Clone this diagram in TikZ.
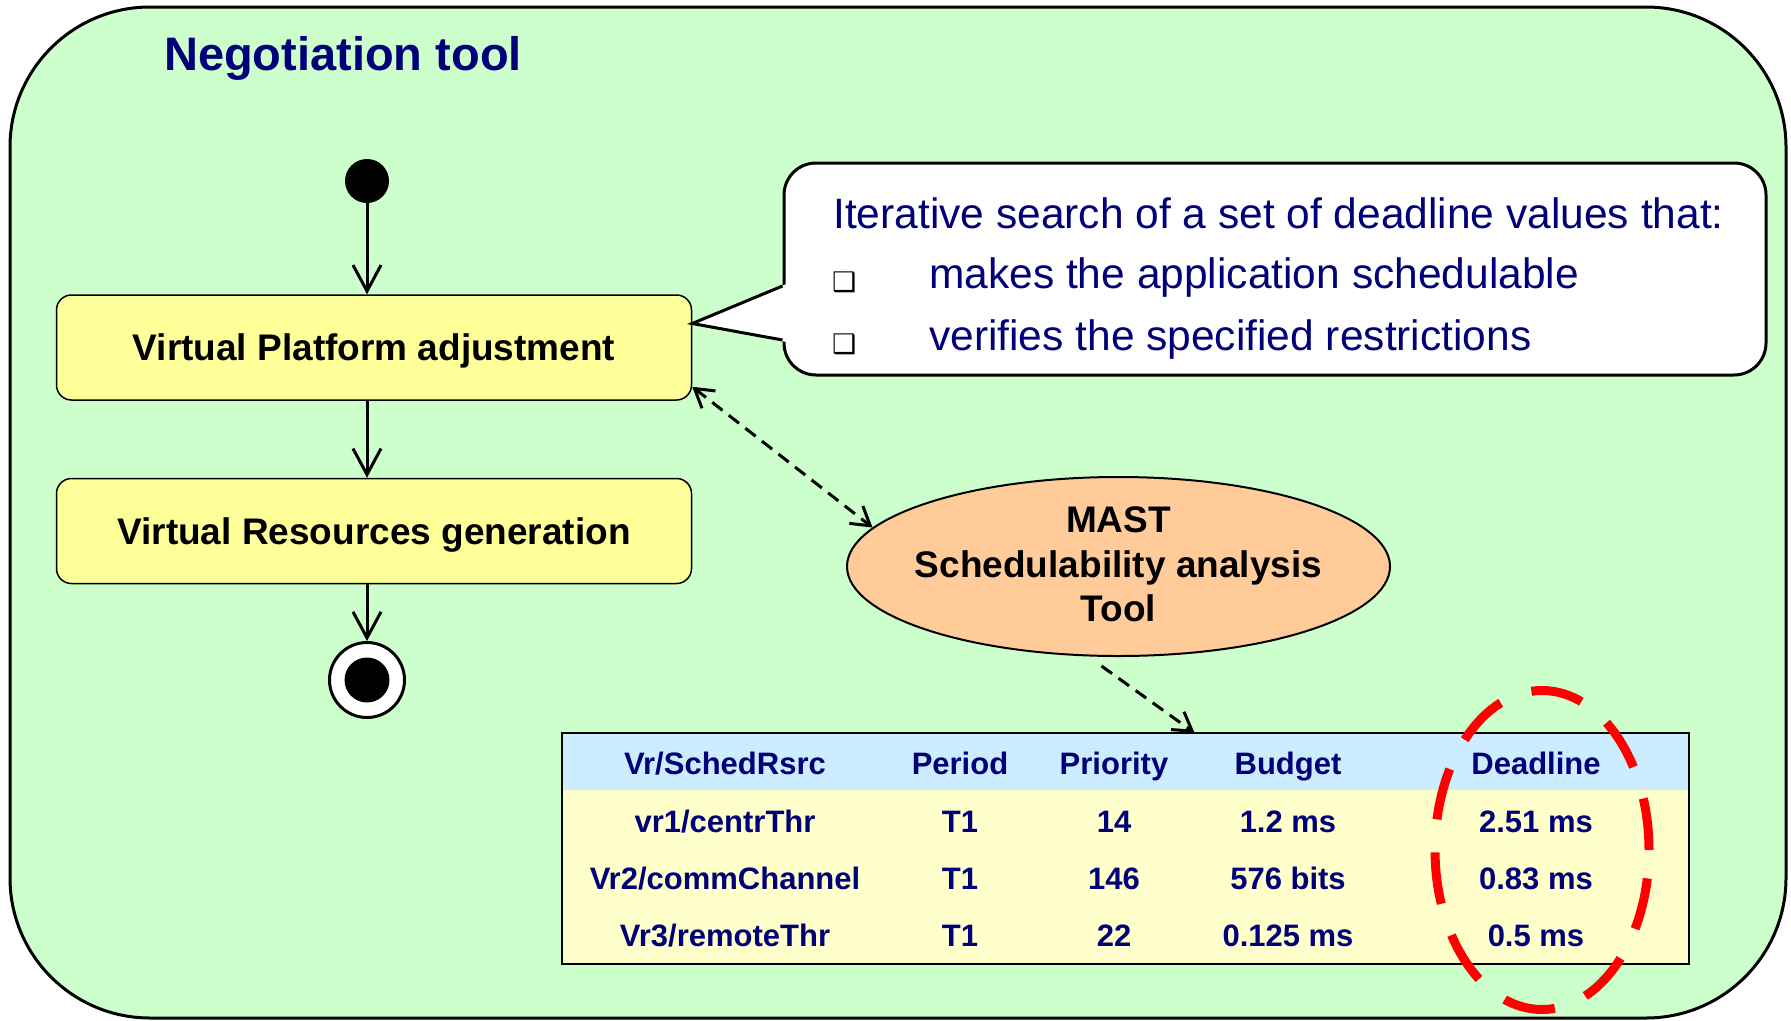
\documentclass[tikz,border=0pt]{standalone}
\usepackage{fontspec}
\setmainfont{Liberation Sans}
\newfontfamily\dingfont{DejaVu Sans}
\usetikzlibrary{shapes.geometric, arrows.meta, positioning}
\definecolor{toolgreen}{HTML}{CCFFCC}
\definecolor{actyellow}{HTML}{FFFF99}
\definecolor{mastorange}{HTML}{FFCC99}
\definecolor{headblue}{HTML}{CCECFF}
\definecolor{rowyellow}{HTML}{FFFFCC}
\definecolor{navy}{RGB}{0,0,120}
\tikzset{
    container/.style={rectangle, minimum width=1776pt, minimum height=1011pt, draw=black, line width=3pt, fill=toolgreen, rounded corners=140pt},
    activity/.style={rectangle, minimum width=635pt, minimum height=105pt, text centered, text depth=0pt, draw=black, line width=1.5pt, fill=actyellow, rounded corners=15pt, font=\fontsize{37}{44}\selectfont\bfseries},
    analysis/.style={ellipse, minimum width=543pt, minimum height=179pt, inner sep=0pt, draw=black, line width=2pt, fill=mastorange},
    analysistext/.style={align=center, inner sep=0pt, font=\fontsize{37}{44.5}\selectfont\bfseries},
    notebox/.style={rectangle, minimum width=982pt, minimum height=212pt, draw=black, line width=3pt, fill=white, rounded corners=32pt},
    notetext/.style={anchor=base west, inner sep=0pt, text=navy, font=\fontsize{42.5}{50}\selectfont},
    bulletmark/.style={anchor=base west, inner sep=0pt, font=\dingfont\fontsize{27}{30}\selectfont},
    cell/.style={anchor=base, inner sep=0pt, text=navy, font=\fontsize{31}{37}\selectfont\bfseries},
    initnode/.style={circle, fill=black, minimum size=44pt, inner sep=0pt},
    finalring/.style={circle, draw=black, line width=3pt, fill=white, minimum size=75pt, inner sep=0pt},
    deadlinering/.style={ellipse, draw=red, line width=9pt, dash pattern=on 52pt off 33pt, minimum width=214pt, minimum height=319pt, inner sep=0pt},
    flow/.style={line width=3pt, -{Straight Barb[length=26pt,width=28pt]}},
    link/.style={line width=3pt, dash pattern=on 13pt off 8pt},
    barb/.tip={Straight Barb[length=18pt,width=22pt]}
}

\begin{document}
\begin{tikzpicture}[x=1pt, y=-1pt]
        \useasboundingbox (0,0) rectangle (1791,1020);
        \node (toolframe) [container] at (898,512.5) {};
        \node (title) [anchor=base west, inner sep=0pt, text=navy, font=\fontsize{47}{56}\selectfont\bfseries] at (164,70) {Negotiation tool};

        \node (start) [initnode] at (367,181) {};
        \node (vpa) [activity] at (374,347.5) {Virtual Platform adjustment};
        \node (vrg) [activity, below=77pt of vpa] {Virtual Resources generation};
        \node (final) [finalring] at (367,680) {};
        \node (finaldot) [initnode, minimum size=45pt] at (final) {};

        \draw [flow] (start) -- (start |- vpa.north);
        \draw [flow] (vpa.south -| start) -- (vrg.north -| start);
        \draw [flow] (vrg.south -| start) -- (final);

        \node (note) [notebox] at (1275,269) {};
        \coordinate (tip) at ([yshift=24pt]vpa.east);
        \fill [white] ([xshift=4pt,yshift=-15pt]note.west) -- (tip) -- ([xshift=4pt,yshift=-73pt]note.west) -- cycle;
        \draw [line width=3pt] ([yshift=-17pt]note.west) -- (tip) -- ([yshift=-71pt]note.west);
        \node (notehead) [notetext] at (833,228) {Iterative search of a set of deadline values that:};
        \node (bullet1) [bulletmark] at (832,291) {❑};
        \node (item1) [notetext] at (929,288) {makes the application schedulable};
        \node (bullet2) [bulletmark] at (832,353) {❑};
        \node (item2) [notetext] at (929,350) {verifies the specified restrictions};

        \node (mast) [analysis] at (1118.5,566.5) {};
        \node (masttext) [analysistext] at (1118.5,564.5) {MAST\\Schedulability analysis\\Tool};
        \draw [link, barb-barb] ([yshift=14pt]vpa.south east) -- (mast.171);

        \node (tbl) [rectangle, fill=rowyellow, minimum width=1126pt, minimum height=231pt] at (1125.5,848.5) {};
        \node (hdr) [rectangle, fill=headblue, minimum width=1126pt, minimum height=57pt, anchor=north] at (tbl.north) {};
        \draw [line width=2pt] (tbl.north west) rectangle (tbl.south east);
        \foreach \y/\a/\b/\c/\d/\e [count=\r] in {
            774/{Vr/SchedRsrc}/Period/Priority/Budget/Deadline,
            832/{vr1/centrThr}/T1/14/{1.2 ms}/{2.51 ms},
            889/{Vr2/commChannel}/T1/146/{576 bits}/{0.83 ms},
            946/{Vr3/remoteThr}/T1/22/{0.125 ms}/{0.5 ms}} {
            \node (c\r a) [cell] at (725,\y) {\a};
            \node (c\r b) [cell] at (960,\y) {\b};
            \node (c\r c) [cell] at (1114,\y) {\c};
            \node (c\r d) [cell] at (1288,\y) {\d};
            \node (c\r e) [cell] at (1536,\y) {\e};
        }
        \draw [link, -barb] ([xshift=-17pt,yshift=-9pt]mast.south) -- ([xshift=69pt]tbl.north);

        \node (dlmark) [deadlinering] at (1542,850) {};
    \end{tikzpicture}
\end{document}
